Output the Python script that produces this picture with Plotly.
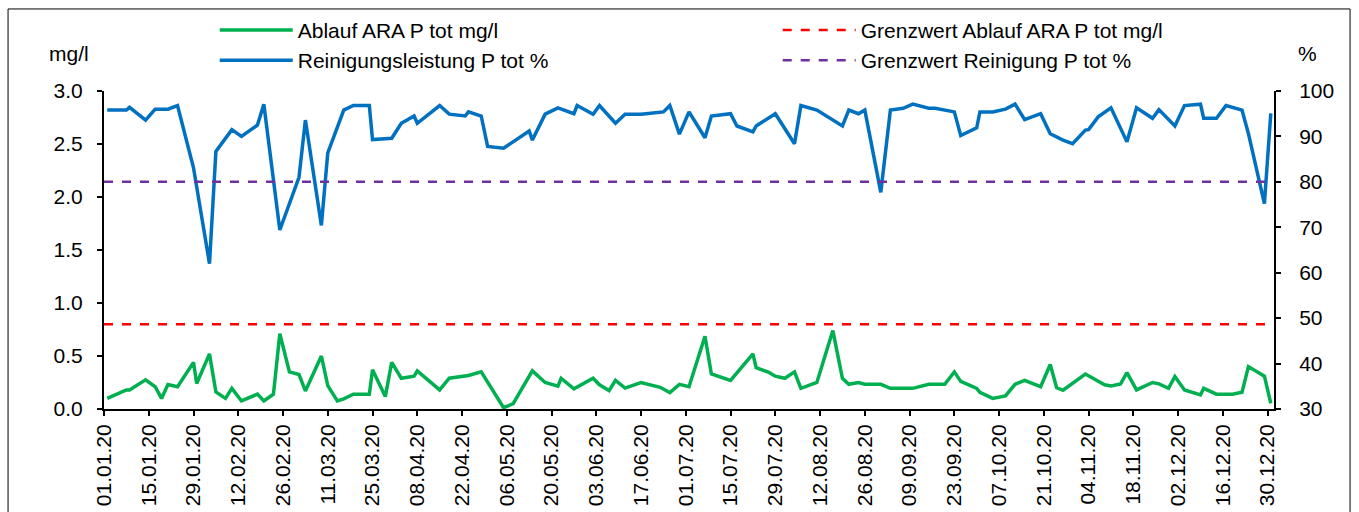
import plotly.graph_objects as go

# ---------------- data ----------------
green_dates = ["2020-01-02","2020-01-08","2020-01-09","2020-01-14","2020-01-17","2020-01-19","2020-01-21","2020-01-24",
    "2020-01-29","2020-01-30","2020-02-03","2020-02-05","2020-02-08","2020-02-10","2020-02-13","2020-02-18","2020-02-20",
    "2020-02-23","2020-02-25","2020-02-28","2020-03-02","2020-03-04","2020-03-09","2020-03-11","2020-03-14","2020-03-16",
    "2020-03-19","2020-03-24","2020-03-25","2020-03-29","2020-03-31","2020-04-03","2020-04-07","2020-04-08","2020-04-15",
    "2020-04-18","2020-04-24","2020-04-28","2020-05-05","2020-05-08","2020-05-14","2020-05-18","2020-05-22","2020-05-23",
    "2020-05-27","2020-06-02","2020-06-04","2020-06-07","2020-06-09","2020-06-12","2020-06-17","2020-06-23","2020-06-26",
    "2020-06-29","2020-07-02","2020-07-07","2020-07-09","2020-07-15","2020-07-22","2020-07-23","2020-07-27","2020-07-29",
    "2020-08-01","2020-08-04","2020-08-06","2020-08-11","2020-08-16","2020-08-19","2020-08-21","2020-08-24","2020-08-26",
    "2020-08-31","2020-09-03","2020-09-10","2020-09-15","2020-09-20","2020-09-23","2020-09-25","2020-09-30","2020-10-01",
    "2020-10-05","2020-10-09","2020-10-12","2020-10-15","2020-10-20","2020-10-23","2020-10-25","2020-10-27","2020-11-03",
    "2020-11-09","2020-11-11","2020-11-14","2020-11-16","2020-11-19","2020-11-24","2020-11-26","2020-11-29","2020-12-01",
    "2020-12-04","2020-12-09","2020-12-10","2020-12-14","2020-12-19","2020-12-22","2020-12-24","2020-12-29","2020-12-31"]
ablauf_mgl = [0.10,0.18,0.18,0.275,0.21,0.10,0.23,0.21,
    0.44,0.24,0.52,0.16,0.10,0.195,0.076,0.14,0.076,
    0.14,0.71,0.35,0.325,0.17,0.50,0.22,0.076,0.095,
    0.14,0.14,0.37,0.117,0.44,0.29,0.31,0.36,0.18,
    0.29,0.316,0.35,0.012,0.05,0.36,0.25,0.215,0.29,
    0.19,0.29,0.228,0.174,0.27,0.197,0.25,0.205,0.155,
    0.233,0.21,0.686,0.33,0.27,0.52,0.39,0.345,0.31,
    0.29,0.35,0.195,0.25,0.74,0.29,0.233,0.25,0.233,
    0.233,0.195,0.195,0.233,0.233,0.35,0.26,0.195,0.158,
    0.10,0.123,0.233,0.27,0.21,0.42,0.20,0.177,0.33,
    0.228,0.218,0.237,0.344,0.18,0.25,0.237,0.195,0.306,
    0.18,0.133,0.195,0.14,0.14,0.158,0.40,0.31,0.053]

blue_dates = ["2020-01-02","2020-01-08","2020-01-09","2020-01-14","2020-01-17","2020-01-21","2020-01-24","2020-01-29",
    "2020-02-03","2020-02-05","2020-02-10","2020-02-13","2020-02-18","2020-02-20","2020-02-25","2020-03-02","2020-03-04",
    "2020-03-09","2020-03-11","2020-03-16","2020-03-19","2020-03-24","2020-03-25","2020-03-31","2020-04-03","2020-04-07",
    "2020-04-08","2020-04-15","2020-04-18","2020-04-23","2020-04-24","2020-04-28","2020-04-30","2020-05-05","2020-05-13",
    "2020-05-14","2020-05-18","2020-05-22","2020-05-27","2020-05-28","2020-06-02","2020-06-04","2020-06-09","2020-06-12",
    "2020-06-17","2020-06-24","2020-06-26","2020-06-29","2020-07-02","2020-07-07","2020-07-09","2020-07-15","2020-07-17",
    "2020-07-22","2020-07-23","2020-07-29","2020-08-04","2020-08-06","2020-08-11","2020-08-19","2020-08-21","2020-08-24",
    "2020-08-26","2020-08-31","2020-09-03","2020-09-07","2020-09-10","2020-09-15","2020-09-17","2020-09-23","2020-09-25",
    "2020-09-30","2020-10-01","2020-10-05","2020-10-09","2020-10-12","2020-10-15","2020-10-20","2020-10-23","2020-10-27",
    "2020-10-30","2020-11-03","2020-11-04","2020-11-07","2020-11-11","2020-11-16","2020-11-19","2020-11-24","2020-11-26",
    "2020-12-01","2020-12-04","2020-12-09","2020-12-10","2020-12-14","2020-12-17","2020-12-22","2020-12-24","2020-12-29",
    "2020-12-31"]
reinigung_pct = [95.8,95.8,96.4,93.6,96.0,96.0,96.8,83.1,
    62.0,86.7,91.5,90.0,92.5,97.1,69.4,81.0,93.6,
    70.4,86.4,95.8,96.8,96.8,89.3,89.6,92.9,94.5,
    92.9,96.8,94.9,94.5,95.4,94.5,87.8,87.4,91.2,
    89.2,94.9,96.3,95.0,96.8,94.9,96.8,92.9,94.9,
    94.9,95.4,96.8,90.5,95.4,89.7,94.5,95.0,92.3,
    91.0,92.3,95.0,88.4,96.8,95.8,92.3,95.8,95.0,
    95.8,77.7,95.8,96.2,97.1,96.2,96.2,95.4,90.2,
    91.9,95.4,95.4,96.0,97.1,93.7,95.0,90.6,89.2,
    88.4,91.4,91.5,94.3,96.3,88.8,96.3,94.0,95.9,
    92.3,96.8,97.1,94.0,94.0,96.8,95.8,90.6,75.2,
    95.1]

x_range = ["2020-01-01", "2021-01-01"]
grenzwert_mgl = 0.8
grenzwert_pct = 80

names = ["Ablauf ARA P tot mg/l", "Grenzwert Ablauf ARA P tot mg/l",
         "Reinigungsleistung P tot %", "Grenzwert Reinigung P tot %"]

# ---------------- figure ----------------
FONT = "Liberation Sans, Arial, sans-serif"
FS = 21
fig = go.Figure()

fig.add_trace(go.Scatter(x=green_dates, y=ablauf_mgl, mode="lines", name=names[0],
                         line=dict(color="#00B050", width=3.5), yaxis="y"))
fig.add_trace(go.Scatter(x=x_range, y=[grenzwert_mgl, grenzwert_mgl], mode="lines", name=names[1],
                         line=dict(color="#FF0000", width=2.5, dash="dash"), yaxis="y"))
fig.add_trace(go.Scatter(x=blue_dates, y=reinigung_pct, mode="lines", name=names[2],
                         line=dict(color="#0070C0", width=3.5), yaxis="y2"))
fig.add_trace(go.Scatter(x=x_range, y=[grenzwert_pct, grenzwert_pct], mode="lines", name=names[3],
                         line=dict(color="#7030A0", width=2.5, dash="dash"), yaxis="y2"))

axis_common = dict(showgrid=False, zeroline=False, showline=True, linecolor="black", linewidth=2,
                   ticks="outside", tickcolor="black", tickwidth=2, ticklen=5, automargin=False,
                   tickfont=dict(family=FONT, size=FS, color="black"))

fig.update_layout(
    width=1359, height=512,
    margin=dict(l=104, r=85, t=91, b=103, autoexpand=False),
    paper_bgcolor="white", plot_bgcolor="white",
    font=dict(family=FONT, size=FS, color="black"),
    xaxis=dict(type="date", range=x_range, tick0="2020-01-01", dtick=14 * 86400000,
               tickformat="%d.%m.%y", tickangle=-90, **axis_common),
    yaxis=dict(range=[0, 3.0], dtick=0.5, tickformat=".1f", ticklabelstandoff=10, **axis_common),
    yaxis2=dict(range=[30, 100], dtick=10, overlaying="y", side="right", ticklabelstandoff=14, **axis_common),
    legend=dict(orientation="h", xref="container", yref="container", x=0.158, y=0.981,
                xanchor="left", yanchor="top",
                entrywidth=475, entrywidthmode="pixels", itemwidth=73,
                font=dict(family=FONT, size=FS, color="black"), tracegroupgap=0,
                bgcolor="rgba(0,0,0,0)"),
    showlegend=True,
    annotations=[
        dict(text="mg/l", xref="paper", yref="paper", x=-0.011, y=1.075, xanchor="right", yanchor="bottom",
             showarrow=False, font=dict(family=FONT, size=FS, color="black")),
        dict(text="%", xref="paper", yref="paper", x=1.019, y=1.075, xanchor="left", yanchor="bottom",
             showarrow=False, font=dict(family=FONT, size=FS, color="black")),
    ],
    shapes=[dict(type="rect", xref="paper", yref="paper", x0=-0.082, x1=1.065, y0=-0.4, y1=1.258,
                 line=dict(color="black", width=1), fillcolor="rgba(0,0,0,0)", layer="below")],
)

fig.write_html("out.html", config={"displayModeBar": False},
               post_script="document.body.style.margin='0';")
